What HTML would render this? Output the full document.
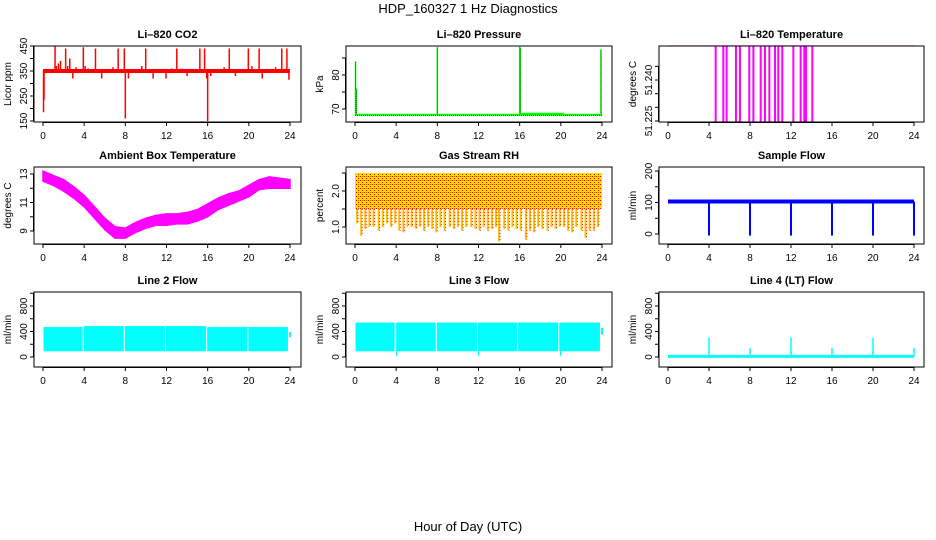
<!DOCTYPE html>
<html><head><meta charset="utf-8"><style>
html,body{margin:0;padding:0;background:#fff;}
svg{display:block;font-family:"Liberation Sans",Arial,sans-serif;}
.t{font-size:11px;font-weight:bold;}
.tk{font-size:10px;}
</style></head><body>
<svg id="fig" width="936" height="540" viewBox="0 0 936 540">
<defs>
<pattern id="rhpat" width="4" height="4" patternUnits="userSpaceOnUse">
<rect width="4" height="4" fill="#ffdd00"/>
<rect x="0" y="0" width="1" height="1" fill="#ff0000"/>
<rect x="2" y="2" width="1" height="1" fill="#ff0000"/>
<rect x="2" y="0" width="1" height="1" fill="#ff6600"/>
</pattern>
</defs>
<text x="468" y="13" text-anchor="middle" font-size="13">HDP_160327  1 Hz Diagnostics</text>
<text x="468" y="531" text-anchor="middle" font-size="13">Hour of Day (UTC)</text>
</svg>
<script>
// ---------- data ----------
const xTicks=[0,4,8,12,16,20,24];
const co2Base=350;
const co2SpikeHours=[0.05,0.1,1.17,1.3,1.5,1.7,2.2,2.4,2.6,2.9,3.2,3.92,4.1,4.4,5.1,5.7,6.8,7.3,7.9,8.0,8.3,9.6,9.98,10.7,11.95,12.5,13.0,13.5,14.0,15.24,15.7,15.9,16.0,16.3,17.6,18.1,18.7,19.95,20.3,21.0,21.3,22.6,23.2,23.7,23.9];
const co2SpikeVals=[185,235,450,370,380,390,440,370,400,320,365,445,370,360,440,320,365,440,440,160,320,370,440,320,320,360,440,360,330,440,440,320,150,330,365,440,330,440,370,440,320,365,440,440,315];
const presBase=68.3;
const presSpikeHours=[0.05,0.12,8.0,16.0,16.05,23.9];
const presSpikeVals=[84,76,88.2,88.3,88,87.5];
const presStepStart=16.0, presStepEnd=20.3, presStepVal=68.6;
const tempBase=51.2525;
const tempDropHours=[4.65,5.4,5.72,6.63,7.02,7.93,8.33,9.04,9.46,9.89,10.44,10.76,11.15,12.23,12.94,13.3,13.46,14.08];
const tempDropVal=51.2248;
const ambHours=[0,1,2,3,4,5,6,7,8,9,10,11,12,13,14,15,16,17,18,19,20,21,22,23,24];
const ambUpper=[13.2,12.9,12.6,12.1,11.5,10.7,9.9,9.3,9.2,9.6,9.9,10.1,10.2,10.2,10.3,10.5,10.9,11.3,11.6,11.8,12.2,12.6,12.8,12.7,12.6];
const ambLower=[12.5,12.2,11.8,11.3,10.7,9.9,9.1,8.5,8.5,8.9,9.2,9.4,9.4,9.5,9.5,9.7,10.0,10.5,10.8,11.1,11.4,11.9,12.0,12.0,12.0];
const rhTop=2.5;
const rhSolidLow=1.5;
const rhSpikeHours=[0.2,0.6,1.0,1.4,1.8,2.3,2.7,3.1,3.5,3.9,4.3,4.7,5.1,5.5,5.9,6.3,6.7,7.1,7.5,7.9,8.3,8.7,9.2,9.6,10.0,10.4,10.8,11.3,11.7,12.1,12.5,12.9,13.3,13.7,14.0,14.5,14.9,15.3,15.7,16.1,16.6,17.0,17.4,17.8,18.2,18.7,19.1,19.5,19.9,20.3,20.7,21.1,21.5,22.0,22.4,22.8,23.2,23.6];
const rhSpikeVals=[1.1,0.75,0.95,1.0,1.0,0.9,1.0,1.1,1.0,1.1,0.9,0.85,1.0,1.0,0.95,1.0,0.9,1.0,0.95,0.85,1.0,0.9,1.0,0.95,1.0,0.9,1.0,1.0,0.95,0.9,1.0,0.9,0.95,1.0,0.6,0.95,0.9,1.0,0.95,0.9,0.65,0.9,0.85,1.0,0.95,0.9,1.0,0.95,1.0,1.0,0.9,0.85,1.0,0.9,0.7,0.9,0.9,1.0];
const sfBase=103;
const sfDropHours=[4,8,12,16,20,24];
const sfDropVals=[-5,-5,-5,-5,-5,-5];
const l2SegStart=[0.05,3.95,7.95,11.95,15.95,19.95];
const l2SegEnd=[3.85,7.85,11.85,15.85,19.85,23.8];
const l2SegTop=[470,485,485,485,470,470];
const l2SegBottom=[90,90,90,90,90,90];
const l3SegStart=[0.05,4.0,7.95,11.95,15.85,19.85];
const l3SegEnd=[3.85,7.85,11.85,15.75,19.75,23.8];
const l3SegTop=[540,540,540,540,540,540];
const l3SegBottom=[90,90,90,90,90,90];
const l3DipHours=[4.05,12.0,20.0];
const l3DipVals=[20,20,20];
const l4Base=10;
const l4SpikeHours=[4,8,12,16,20,24];
const l4SpikeVals=[310,140,310,140,300,140];

// ---------- helpers ----------
const NS="http://www.w3.org/2000/svg";
const fig=document.getElementById('fig');
function mk(parent,tag,attrs,txt){const e=document.createElementNS(NS,tag);for(const k in attrs)e.setAttribute(k,attrs[k]);if(txt!==undefined)e.textContent=txt;parent.appendChild(e);return e;}
const cols=[{bl:34,br:301,x0:43,x1:290},{bl:346,br:612,x0:355,x1:602},{bl:659,br:924,x0:668,x1:914}];
const rows=[{bt:46,bb:122},{bt:167,bb:244},{bt:292,bb:367}];
function panel(ci,ri,title,ylab,v1,p1,v2,p2,ticks,labels,name){
  const c=cols[ci],r=rows[ri];
  const g=mk(fig,'g',{});
  
  
  const X=h=>c.x0+(c.x1-c.x0)*h/24;
  const Y=v=>p1+(p2-p1)*(v-v1)/(v2-v1);
  const t=mk(g,'text',{x:(c.bl+c.br)/2,y:r.bt-8,'text-anchor':'middle',class:'t'},title);
  
  
  const data=mk(g,'g',{});
  
  
  const box=mk(g,'rect',{x:c.bl,y:r.bt,width:c.br-c.bl,height:r.bb-r.bt,fill:'none',stroke:'#000','stroke-width':1});
  
  
  const xa=mk(g,'g',{});
  
  
  mk(xa,'line',{x1:X(0),x2:X(24),y1:r.bb+0.5,y2:r.bb+0.5,stroke:'#000'});
  xTicks.forEach(h=>{mk(xa,'line',{x1:X(h),x2:X(h),y1:r.bb,y2:r.bb+4,stroke:'#000'});mk(xa,'text',{x:X(h),y:r.bb+17,'text-anchor':'middle',class:'tk'},String(h));});
  const ya=mk(g,'g',{});
  
  
  mk(ya,'line',{x1:c.bl-0.5,x2:c.bl-0.5,y1:Y(ticks[0]),y2:Y(ticks[ticks.length-1]),stroke:'#000'});
  ticks.forEach((v,i)=>{const y=Y(v);mk(ya,'line',{x1:c.bl-4,x2:c.bl,y1:y,y2:y,stroke:'#000'});
    if(labels[i]!==''){mk(ya,'text',{x:0,y:0,'text-anchor':'middle',class:'tk',transform:'translate('+(c.bl-7)+','+y+') rotate(-90)'},labels[i]);}});
  const yl=mk(g,'text',{x:0,y:0,'text-anchor':'middle',class:'tk',transform:'translate('+(c.bl-23)+','+((r.bt+r.bb)/2)+') rotate(-90)'},ylab);
  
  
  return {g:data,X,Y};
}
function vline(g,x,y1,y2,col,w){return mk(g,'line',{x1:x,x2:x,y1:y1,y2:y2,stroke:col,'stroke-width':w});}

// CO2
{const p=panel(0,0,'Li\u2013820 CO2','Licor ppm',150,121,450,46,[150,200,250,300,350,400,450],['150','','250','','350','','450'],'co2');
 co2SpikeHours.forEach((h,i)=>{const l=vline(p.g,p.X(h),p.Y(co2Base),p.Y(co2SpikeVals[i]),'#ff0000',1.5);
  });
 const b=mk(p.g,'line',{x1:p.X(0),x2:p.X(24),y1:p.Y(co2Base),y2:p.Y(co2Base),stroke:'#ff0000','stroke-width':4});
 }
// Pressure
{const p=panel(1,0,'Li\u2013820 Pressure','kPa',70,109,80,75,[70,75,80,85],['70','','80',''],'pressure');
 presSpikeHours.forEach((h,i)=>{const l=vline(p.g,p.X(h),p.Y(presBase),p.Y(presSpikeVals[i]),'#00ff00',1.5);
  
  vline(p.g,p.X(h),p.Y(presBase),p.Y(presSpikeVals[i]),'#000',0.6).setAttribute('stroke-dasharray','1,1');});
 const b=mk(p.g,'line',{x1:p.X(0),x2:p.X(24),y1:p.Y(presBase),y2:p.Y(presBase),stroke:'#00ff00','stroke-width':2});
 
 const s=mk(p.g,'line',{x1:p.X(presStepStart),x2:p.X(presStepEnd),y1:p.Y(presStepVal),y2:p.Y(presStepVal),stroke:'#00ff00','stroke-width':2});
 
 mk(p.g,'line',{x1:p.X(0),x2:p.X(24),y1:p.Y(presBase)+0.5,y2:p.Y(presBase)+0.5,stroke:'#000','stroke-width':0.8,'stroke-dasharray':'1,1'});}
// Li temp
{const p=panel(2,0,'Li\u2013820 Temperature','degrees C',51.225,121,51.240,80,[51.225,51.230,51.235,51.240,51.245],['51.225','','','51.240',''],'li-temp');
 tempDropHours.forEach(h=>{const l=vline(p.g,p.X(h),p.Y(tempBase),p.Y(tempDropVal),'#ff00ff',2);
  });
 const b=mk(p.g,'line',{x1:p.X(0),x2:p.X(24),y1:p.Y(tempBase),y2:p.Y(tempBase),stroke:'#ff00ff','stroke-width':1});
 }
// Ambient
{const p=panel(0,1,'Ambient Box Temperature','degrees C',9,231,13,174,[9,10,11,12,13],['9','','11','','13'],'ambient');
 let d='';ambHours.forEach((h,i)=>{d+=(i?'L':'M')+p.X(h)+' '+p.Y(ambUpper[i]);});
 for(let i=ambHours.length-1;i>=0;i--)d+='L'+p.X(ambHours[i])+' '+p.Y(ambLower[i]);
 const a=mk(p.g,'path',{d:d+'Z',fill:'#ff00ff',stroke:'#ff00ff','stroke-width':1.5});
 }
// RH
{const p=panel(1,1,'Gas Stream RH','percent',1.0,227,2.0,191,[1.0,1.5,2.0,2.5],['1.0','','2.0',''],'rh');
 rhSpikeHours.forEach((h,i)=>{const l=vline(p.g,p.X(h),p.Y(rhSolidLow),p.Y(rhSpikeVals[i]),'#ffbb00',2);
  
  vline(p.g,p.X(h)+1,p.Y(rhSolidLow),p.Y(rhSpikeVals[i]),'#ff0000',0.8).setAttribute('stroke-dasharray','1,2');});
 const r=mk(p.g,'rect',{x:p.X(0),y:p.Y(rhTop),width:p.X(24)-p.X(0),height:p.Y(rhSolidLow)-p.Y(rhTop),fill:'url(#rhpat)'});
 }
// Sample flow
{const p=panel(2,1,'Sample Flow','ml/min',0,234,200,171,[0,50,100,150,200],['0','','100','','200'],'sample-flow');
 sfDropHours.forEach((h,i)=>{const l=vline(p.g,p.X(h),p.Y(sfBase),p.Y(sfDropVals[i]),'#0000ff',2);
  });
 const b=mk(p.g,'line',{x1:p.X(0),x2:p.X(24),y1:p.Y(sfBase),y2:p.Y(sfBase),stroke:'#0000ff','stroke-width':4});
 }
// Line 2
{const p=panel(0,2,'Line 2 Flow','ml/min',0,357,800,306,[0,200,400,600,800,1000],['0','','400','','800',''],'line2');
 l2SegStart.forEach((s,i)=>{const r=mk(p.g,'rect',{x:p.X(s),y:p.Y(l2SegTop[i]),width:p.X(l2SegEnd[i])-p.X(s),height:p.Y(l2SegBottom[i])-p.Y(l2SegTop[i]),fill:'#00ffff'});
  });
 vline(p.g,p.X(24),p.Y(390),p.Y(310),'#00ffff',2);}
// Line 3
{const p=panel(1,2,'Line 3 Flow','ml/min',0,357,800,306,[0,200,400,600,800,1000],['0','','400','','800',''],'line3');
 l3SegStart.forEach((s,i)=>{const r=mk(p.g,'rect',{x:p.X(s),y:p.Y(l3SegTop[i]),width:p.X(l3SegEnd[i])-p.X(s),height:p.Y(l3SegBottom[i])-p.Y(l3SegTop[i]),fill:'#00ffff'});
  });
 l3DipHours.forEach((h,i)=>{const l=vline(p.g,p.X(h),p.Y(100),p.Y(l3DipVals[i]),'#00ffff',1.5);
  });
 vline(p.g,p.X(24),p.Y(460),p.Y(350),'#00ffff',2);}
// Line 4
{const p=panel(2,2,'Line 4 (LT) Flow','ml/min',0,357,800,306,[0,200,400,600,800,1000],['0','','400','','800',''],'line4');
 l4SpikeHours.forEach((h,i)=>{const l=vline(p.g,p.X(h),p.Y(l4Base),p.Y(l4SpikeVals[i]),'#00ffff',1.5);
  });
 const b=mk(p.g,'line',{x1:p.X(0),x2:p.X(24),y1:p.Y(l4Base),y2:p.Y(l4Base),stroke:'#00ffff','stroke-width':3});
 }
</script>
</body></html>
